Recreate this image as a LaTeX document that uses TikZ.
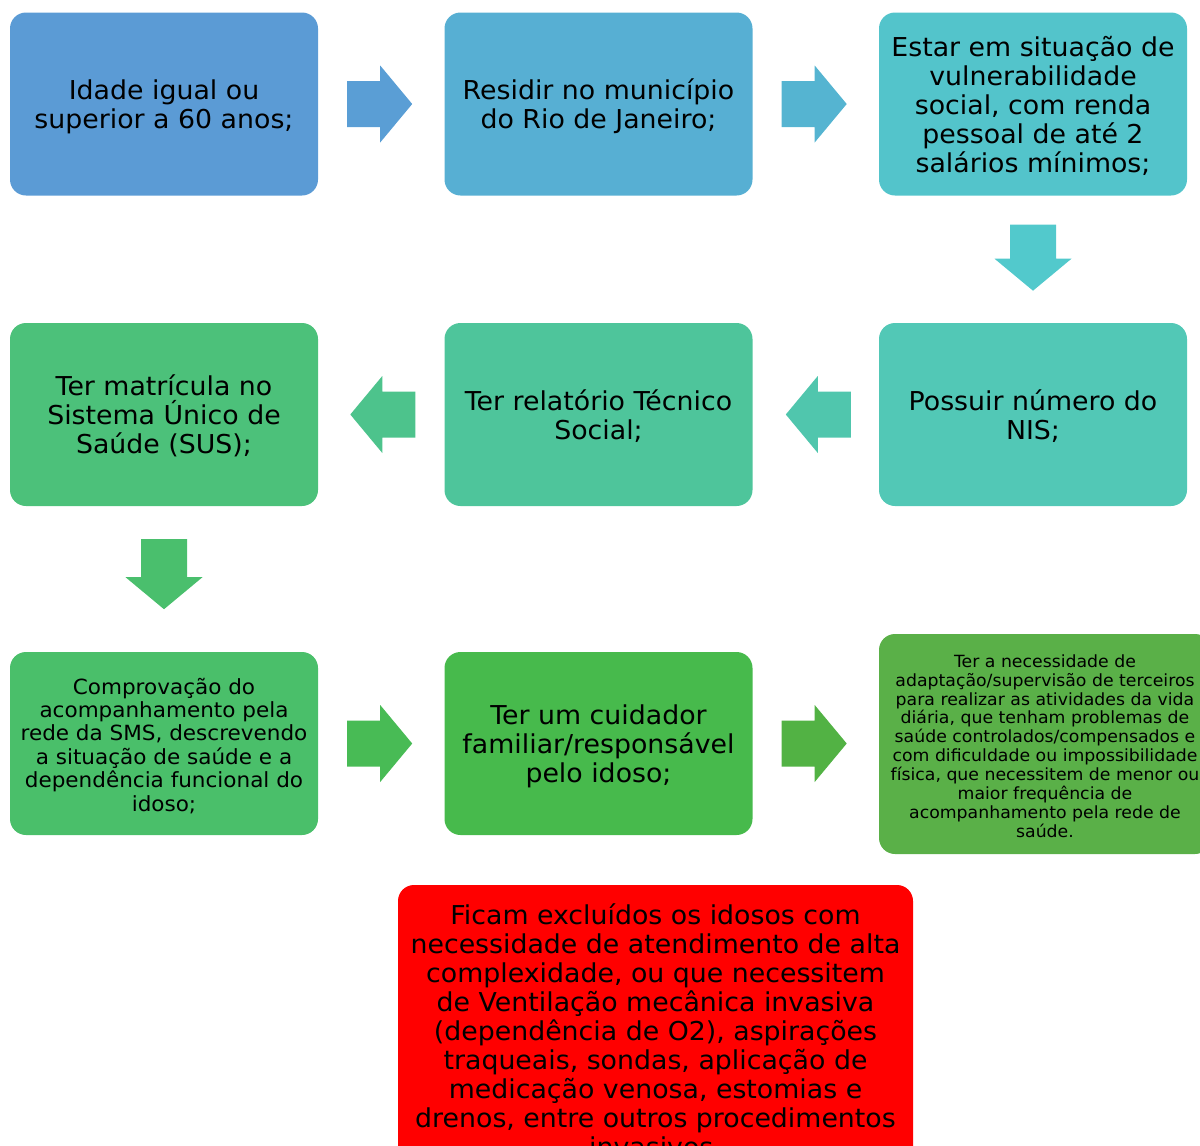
\documentclass[tikz,border=0pt]{standalone}
\usepackage{fontspec}
\setmainfont{DejaVu Sans}[FakeStretch=1.03]
\usetikzlibrary{calc}

\definecolor{bA}{HTML}{5B9BD5}
\definecolor{bB}{HTML}{57AFD3}
\definecolor{bC}{HTML}{53C4CB}
\definecolor{bD}{HTML}{52C8B6}
\definecolor{bE}{HTML}{4EC59B}
\definecolor{bF}{HTML}{4CC17A}
\definecolor{bG}{HTML}{4ABF6A}
\definecolor{bH}{HTML}{47BA4C}
\definecolor{bI}{HTML}{5AB048}
\definecolor{aA}{HTML}{5A9ED5}
\definecolor{aB}{HTML}{55B4D1}
\definecolor{aC}{HTML}{52C9CC}
\definecolor{aD}{HTML}{50C6AD}
\definecolor{aE}{HTML}{4DC38C}
\definecolor{aF}{HTML}{4ABF6D}
\definecolor{aG}{HTML}{48BB55}
\definecolor{aH}{HTML}{52B244}

% line strut, raised a little so the lines sit at the optical centre
\newcommand\lnstrut{\vrule height\dimexpr0.7\baselineskip+4.5pt\relax
  depth\dimexpr0.3\baselineskip-4.5pt\relax width0pt\relax}
\newcommand\fixedlines{\lineskiplimit=-100pt\lineskip=0pt\relax}

\tikzset{
  x=1pt, y=-1pt,
  card/.style={rectangle, rounded corners=16pt, inner sep=0pt, align=center,
    text=black, minimum width=308pt, minimum height=183pt},
  bigtxt/.style={font=\fontsize{26}{29}\selectfont\fixedlines},
  midtxt/.style={font=\fontsize{20.9}{23.4}\selectfont\fixedlines},
  smalltxt/.style={font=\fontsize{16.8}{18.9}\selectfont\fixedlines},
  blockarrow/.pic={
    \fill (0,-23) -- (#1,-23) -- (#1,-38.5) -- (#1+32,0) -- (#1,38.5)
      -- (#1,23) -- (0,23) -- cycle;
  }
}

\begin{document}
\begin{tikzpicture}
\useasboundingbox (0,0) rectangle (1200,1146);
\clip (0,0) rectangle (1200,1146);

% first row
\node[card, bigtxt, fill=bA] (idade) at (164,104)
  {\lnstrut Idade igual ou\\\lnstrut superior a 60 anos;};
\node[card, bigtxt, fill=bB] (residir) at (598.5,104)
  {\lnstrut Residir no município\\\lnstrut do Rio de Janeiro;};
\node[card, bigtxt, fill=bC] (vulner) at (1033,104)
  {\lnstrut Estar em situação de\\\lnstrut vulnerabilidade\\\lnstrut social, com renda\\\lnstrut pessoal de até 2\\\lnstrut salários mínimos;};

% second row
\node[card, bigtxt, fill=bD] (nis) at (1033,414.5)
  {\lnstrut Possuir número do\\\lnstrut NIS;};
\node[card, bigtxt, fill=bE] (relat) at (598.5,414.5)
  {\lnstrut Ter relatório Técnico\\\lnstrut Social;};
\node[card, bigtxt, fill=bF] (sus) at (164,414.5)
  {\lnstrut Ter matrícula no\\\lnstrut Sistema Único de\\\lnstrut Saúde (SUS);};

% third row
\node[card, midtxt, fill=bG] (comprov) at (164,743.5)
  {\lnstrut Comprovação do\\\lnstrut acompanhamento pela\\\lnstrut rede da SMS, descrevendo\\\lnstrut a situação de saúde e a\\\lnstrut dependência funcional do\\\lnstrut idoso;};
\node[card, bigtxt, fill=bH] (cuidador) at (598.5,743.5)
  {\lnstrut Ter um cuidador\\\lnstrut familiar/responsável\\\lnstrut pelo idoso;};
\node[card, smalltxt, fill=bI, minimum width=332pt, minimum height=220pt] (neces) at (1045,744)
  {\lnstrut Ter a necessidade de\\\lnstrut adaptação/supervisão de terceiros\\\lnstrut para realizar as atividades da vida\\\lnstrut diária, que tenham problemas de\\\lnstrut saúde controlados/compensados e\\\lnstrut com dificuldade ou impossibilidade\\\lnstrut física, que necessitem de menor ou\\\lnstrut maior frequência de\\\lnstrut acompanhamento pela rede de\\\lnstrut saúde.};

% exclusion note
\node[card, bigtxt, fill=red, minimum width=515pt, minimum height=290pt] (exclus) at (655.5,1030)
  {\lnstrut Ficam excluídos os idosos com\\\lnstrut necessidade de atendimento de alta\\\lnstrut complexidade, ou que necessitem\\\lnstrut de Ventilação mecânica invasiva\\\lnstrut (dependência de O2), aspirações\\\lnstrut traqueais, sondas, aplicação de\\\lnstrut medicação venosa, estomias e\\\lnstrut drenos, entre outros procedimentos\\\lnstrut invasivos.};

% block arrows between the cards
\pic[fill=aA] at ($(idade.east)+(29,0)$) {blockarrow=33};
\pic[fill=aB] at ($(residir.east)+(29,0)$) {blockarrow=33};
\pic[fill=aC, rotate=-90] at ($(vulner.south)+(0,29)$) {blockarrow=34};
\pic[fill=aD, rotate=180] at ($(nis.west)+(-28,0)$) {blockarrow=33};
\pic[fill=aE, rotate=180] at ($(relat.west)+(-29,0)$) {blockarrow=33};
\pic[fill=aF, rotate=-90] at ($(sus.south)+(0,33)$) {blockarrow=38};
\pic[fill=aG] at ($(comprov.east)+(29,0)$) {blockarrow=33};
\pic[fill=aH] at ($(cuidador.east)+(29,0)$) {blockarrow=33};
\end{tikzpicture}
\end{document}
